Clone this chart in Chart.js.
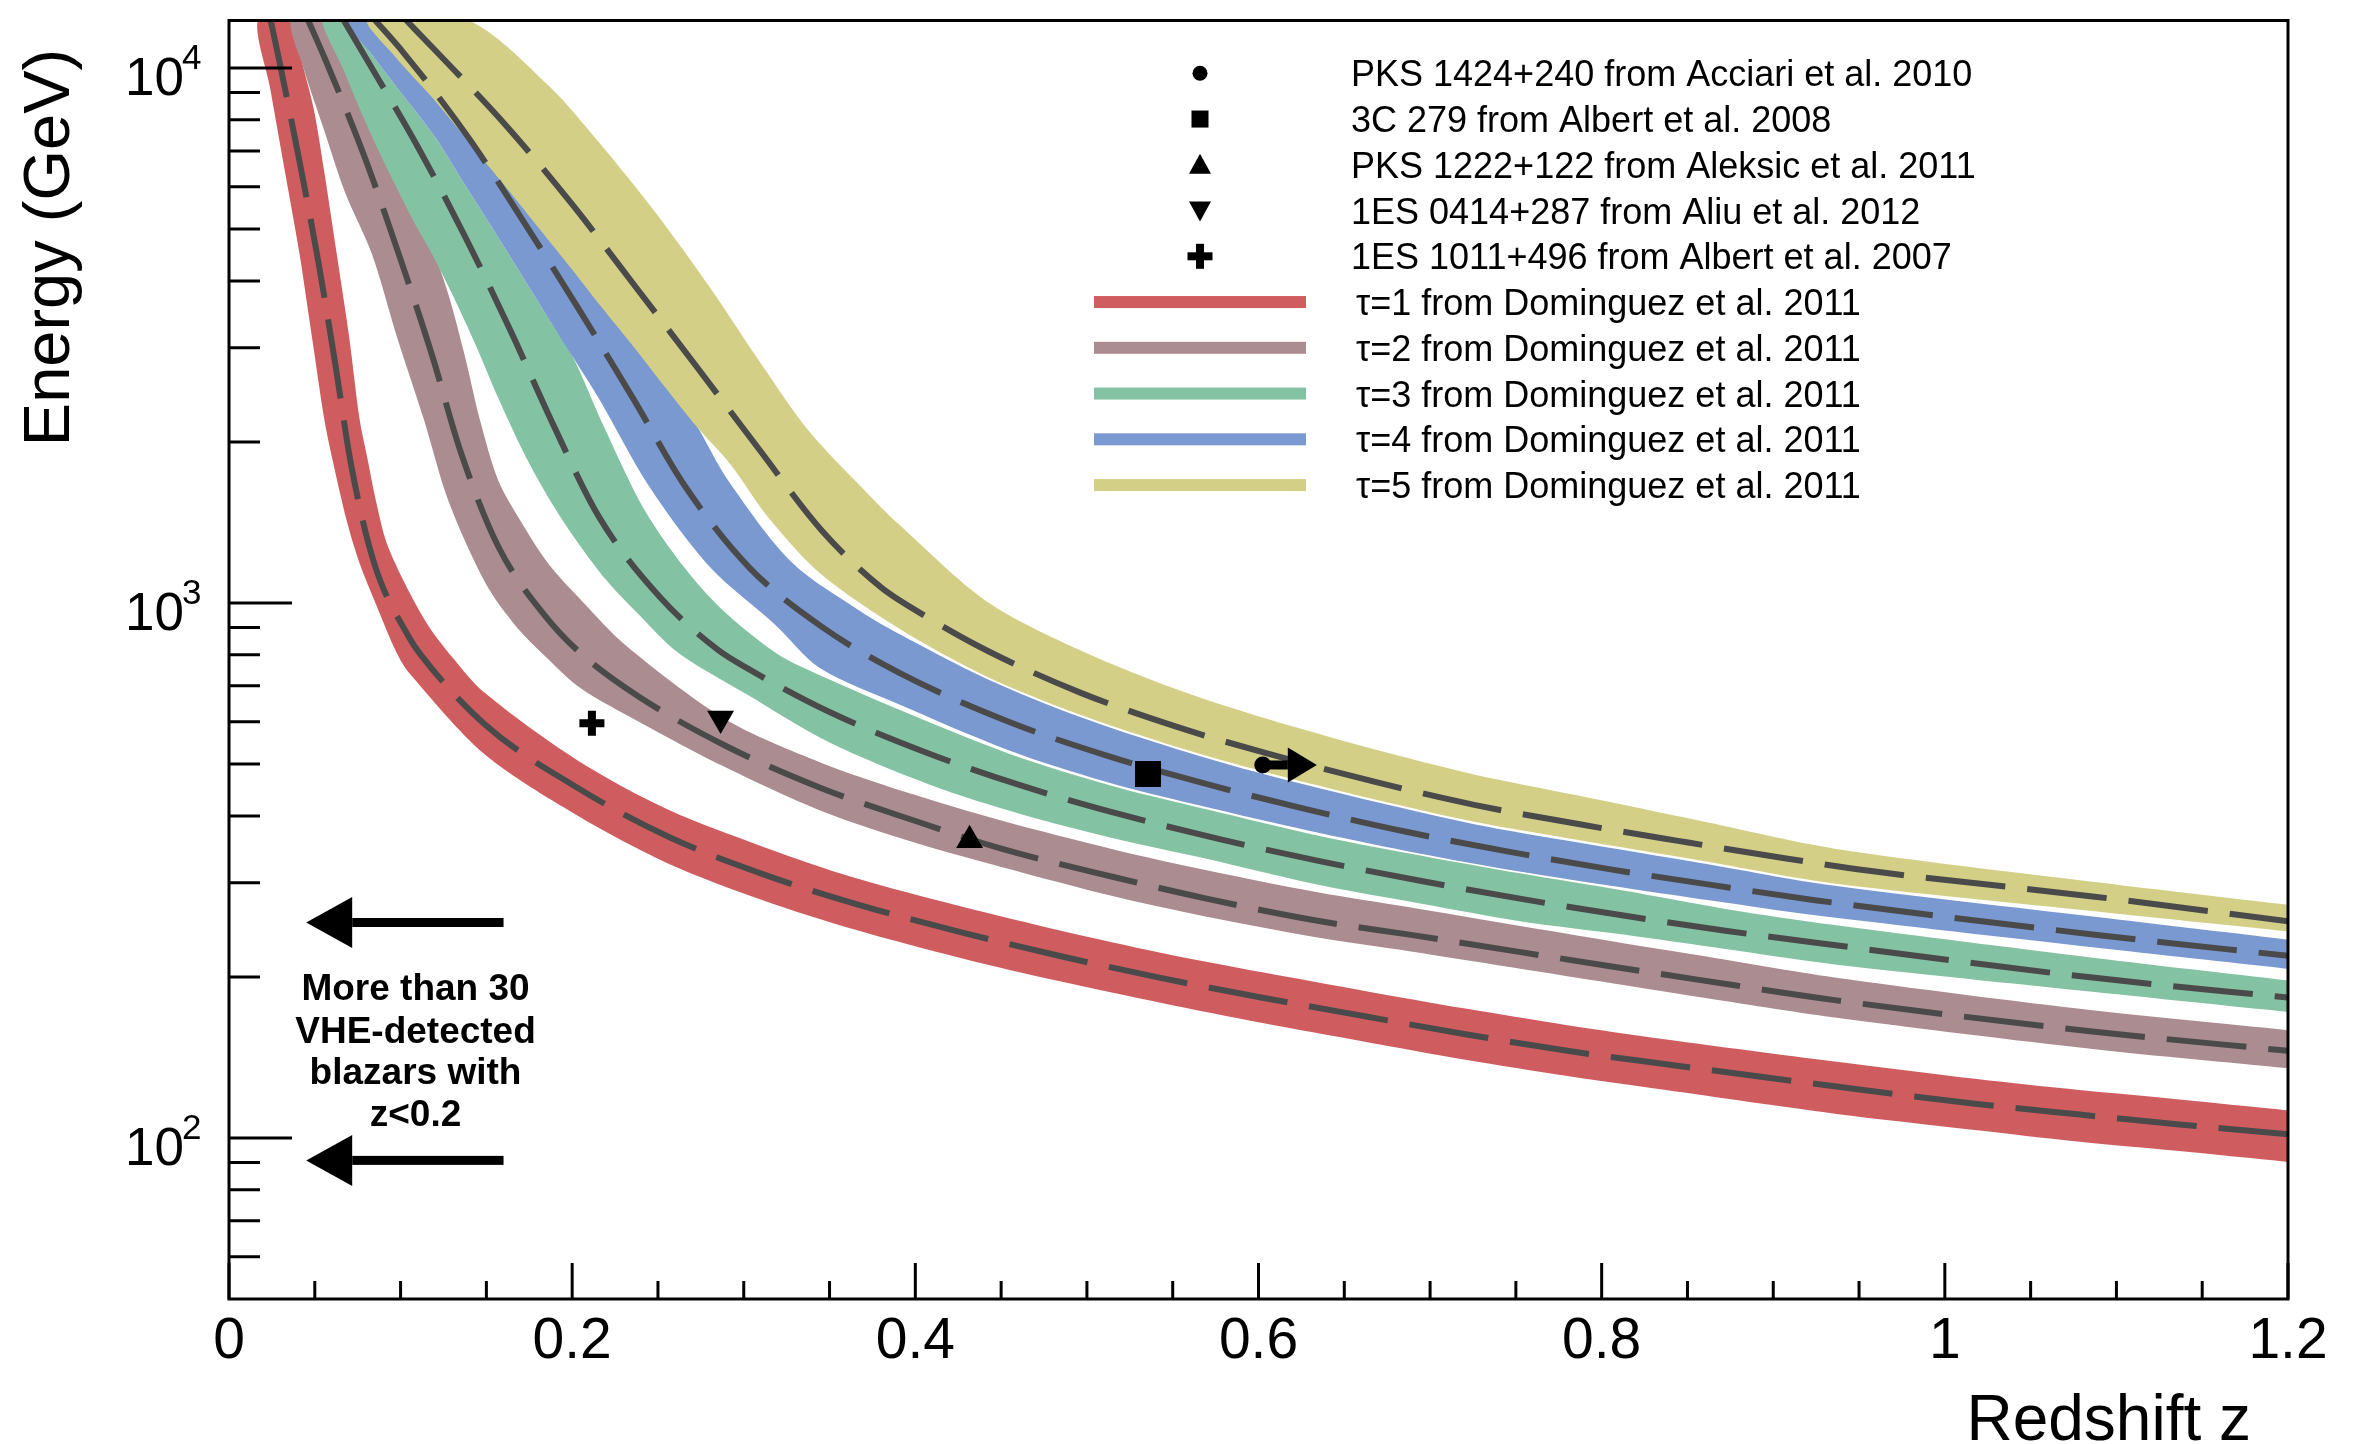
<!DOCTYPE html>
<html><head><meta charset="utf-8">
<script src="https://cdn.jsdelivr.net/npm/chart.js@4.4.0/dist/chart.umd.min.js"></script>
<style>html,body{margin:0;padding:0;background:#fff;}canvas{display:block;}</style>
</head><body>
<canvas id="c" width="2356" height="1444"></canvas>
<script>
// ---------------- DATA (redshift z, energy GeV) ----------------
const redshiftTicks = [0, 0.2, 0.4, 0.6, 0.8, 1.0, 1.2];
const redshiftTickLabels = ['0', '0.2', '0.4', '0.6', '0.8', '1', '1.2'];
const energyTicks = [100, 1000, 10000];
const energyTickExponents = ['2', '3', '4'];

// tau = 1 (center dashed line and band edges)
const tau1Z = [0.0241,0.0290,0.0411,0.0521,0.0620,0.0712,0.0845,0.1050,0.1110,0.1488,0.2023,0.2558,0.3115,0.3651,0.4263,0.4849,0.5429,0.6023,0.6612,0.7206,0.7800,0.8365,0.9358,1.0175,1.0772,1.1367,1.2000];
const tau1E = [12350,10430,6690,4340,2790,1810,1190,862,806,594,453,366,311,274,242.6,218.6,199.2,182.9,169.0,156.3,145.5,137.5,124.9,115.9,110.7,106.0,101.6];
const tau1LoZ = [0.0169,0.0241,0.0326,0.0411,0.0483,0.0555,0.0604,0.0688,0.0761,0.0857,0.0978,0.1050,0.1488,0.2023,0.2558,0.3115,0.3651,0.4263,0.4849,0.5429,0.6023,0.6612,0.7206,0.7800,0.8365,0.9358,1.0175,1.0772,1.1367,1.2000];
const tau1LoE = [12350,9131,6404,4491,3150,2208,1849,1417,1187,994,806,740,522,402,326,278,245,217,196,179,164,151.5,140,130.5,123,111,103.5,98.5,94.5,90.2];
const tau1HiZ = [0.0362,0.0435,0.0495,0.0555,0.0628,0.0700,0.0761,0.0809,0.0857,0.0918,0.1026,0.1159,0.1304,0.1488,0.2023,0.2558,0.3115,0.3651,0.4263,0.4849,0.5429,0.6023,0.6612,0.7206,0.7800,0.8365,0.9358,1.0175,1.0772,1.1367,1.2000];
const tau1HiE = [12350,9980,8356,6404,4491,3150,2208,1849,1549,1297,1086,910,790,680,510,411,350,306,271,244,222,204,188.5,174.5,162.5,153,139,129,123,118,112.6];

// tau = 2
const tau2Z = [0.0458,0.0563,0.0797,0.0995,0.1183,0.1352,0.1570,0.1847,0.2052,0.2380,0.2893,0.3449,0.4014,0.4501,0.5173,0.5690,0.6344,0.6879,0.8068,0.8567,0.9358,1.0874,1.2000];
const tau2E = [12350,10339,6731,4436,2908,1909,1274,942,804,671,541,451,390,347.4,306.5,280.5,254.7,239.9,209,197.5,181,158,145.5];
const tau2LoZ = [0.0362,0.0435,0.0555,0.0676,0.0833,0.0978,0.1135,0.1280,0.1497,0.1666,0.1847,0.2052,0.2380,0.2893,0.3449,0.4014,0.4501,0.5173,0.5690,0.6344,0.6879,0.8068,0.8567,0.9358,1.0874,1.2000];
const tau2LoE = [12350,9980,7645,5861,4491,3150,2208,1548,1086,910,793,692,602,493,409,355,321,282,259.4,237,223.4,194.5,183.5,168,146.5,135];
const tau2HiZ = [0.0555,0.0676,0.0797,0.0942,0.1087,0.1195,0.1280,0.1376,0.1461,0.1570,0.1703,0.1859,0.2053,0.2318,0.2893,0.3449,0.4014,0.4501,0.5173,0.5690,0.6344,0.6879,0.8068,0.8567,0.9358,1.0874,1.2000];
const tau2HiE = [12350,9980,8066,6404,5176,4491,3761,2882,2208,1692,1417,1187,1012,830,606,503,436,392,345,317,288,270,233,219.5,199.5,173,159];

// tau = 3
const tau3Z = [0.0664,0.0792,0.1103,0.1381,0.1642,0.1891,0.2157,0.2511,0.2850,0.3027,0.3497,0.4066,0.4615,0.5191,0.5773,0.6356,0.6950,0.7532,0.8127,0.8721,0.9307,1.0874,1.2000];
const tau3E = [12350,10522,7097,4804,3223,2150,1447,1026,817,753,626,525,456,403,362,329.3,302.2,279.8,260.5,244,230.4,199.2,183];
const tau3LoZ = [0.0543,0.0664,0.0785,0.0930,0.1075,0.1183,0.1304,0.1437,0.1570,0.1715,0.1860,0.2016,0.2197,0.2378,0.2620,0.3027,0.3497,0.4088,0.4617,0.5191,0.5690,0.6356,0.6950,0.7532,0.8127,0.8721,0.9358,1.0874,1.2000];
const tau3LoE = [12350,9980,8066,6404,5176,4491,3761,3040,2413,1917,1577,1320,1105,959,806,672,549,457,403,361,333,297,274,254,240,225.5,211,187.4,172];
const tau3HiZ = [0.0676,0.0821,0.1014,0.1207,0.1364,0.1521,0.1678,0.1835,0.2004,0.2181,0.2446,0.2801,0.3188,0.3497,0.4088,0.4617,0.5191,0.5690,0.6356,0.6950,0.7532,0.8127,0.8721,0.9358,1.0874,1.2000];
const tau3HiE = [12350,10714,8892,7381,6127,5103,4236,3516,2882,2150,1448,1026,806,720,597,513,451,412,367,337,312,290,268,250,217,197];

// tau = 4
const tau4Z = [0.0845,0.1014,0.1400,0.1727,0.2045,0.2355,0.2656,0.3031,0.3441,0.3907,0.4555,0.5115,0.5689,0.6282,0.6861,0.7441,0.8044,0.8638,0.9233,1.0874,1.2000];
const tau4E = [12350,10713,7379,5103,3515,2413,1656,1166,909,740,598,518.5,459.5,411.5,373.5,343.7,318.1,297.2,278.6,239.9,219];
const tau4LoZ = [0.0676,0.0821,0.1014,0.1207,0.1364,0.1521,0.1678,0.1835,0.2004,0.2155,0.2446,0.2804,0.3186,0.3441,0.3907,0.4555,0.5115,0.5689,0.6282,0.6861,0.7441,0.8044,0.8638,0.9233,1.0874,1.2000];
const tau4LoE = [12350,10714,8892,7381,6127,5103,4236,3516,2882,2413,1656,1166,909,757,646,529,463,416,376,344,318,296.5,277.8,261,226.9,207];
const tau4HiZ = [0.0959,0.1106,0.1313,0.1521,0.1728,0.1911,0.2094,0.2253,0.2427,0.2576,0.2738,0.2906,0.3281,0.3691,0.3907,0.4414,0.4961,0.5525,0.6029,0.6680,0.7257,0.7856,0.8567,0.9358,1.0874,1.2000];
const tau4HiE = [12350,10525,8814,7252,5966,4995,4183,3566,2987,2545,2112,1700,1190,960,875,722,612,533,479,425,386,357,327,296,259,234.8];

// tau = 5
const tau5Z = [0.1026,0.1200,0.1618,0.1997,0.2367,0.2729,0.3086,0.3453,0.3804,0.3998,0.4414,0.4961,0.5525,0.6029,0.6680,0.7257,0.7856,0.8445,0.9039,0.9560,1.0874,1.2000];
const tau5E = [12350,10808,7785,5576,3910,2756,1944,1368,1067,971,816,680,586.5,525.6,463,419.5,386.6,359.2,334.4,315.8,282.5,254];
const tau5LoZ = [0.0809,0.0966,0.1183,0.1401,0.1618,0.1811,0.2004,0.2173,0.2367,0.2536,0.2728,0.2922,0.3139,0.3453,0.3907,0.4414,0.4961,0.5525,0.6029,0.6680,0.7257,0.7856,0.8567,0.9358,1.0874,1.2000];
const tau5LoE = [12350,10525,8814,7252,5966,4995,4183,3566,2987,2545,2132,1817,1450,1130,895,729,618,538,484,429,390,361,330.6,299.1,265.3,243.2];
const tau5HiZ = [0.1376,0.1859,0.2198,0.2487,0.2801,0.3091,0.3381,0.3743,0.3907,0.4414,0.4961,0.5525,0.6029,0.6680,0.7257,0.7856,0.8567,0.9358,1.0874,1.2000];
const tau5HiE = [12350,9296,6998,5363,3896,2831,2094,1577,1400,1008,816,689,610,532,478,437,392,347.4,301,272.8];

// measured sources
const sourceLabels = ['PKS 1424+240 from Acciari et al. 2010','3C 279 from Albert et al. 2008','PKS 1222+122 from Aleksic et al. 2011','1ES 0414+287 from Aliu et al. 2012','1ES 1011+496 from Albert et al. 2007'];
const sourceZ = [0.6025, 0.5356, 0.4316, 0.2865, 0.2115];
const sourceE = [498, 479, 360, 608, 596];
const limitArrowTipZ = [0.634];   // PKS 1424+240 redshift lower limit

const tauLabels = ['τ=1 from Dominguez et al. 2011','τ=2 from Dominguez et al. 2011','τ=3 from Dominguez et al. 2011','τ=4 from Dominguez et al. 2011','τ=5 from Dominguez et al. 2011'];
const bandColors = ['#CF5D60', '#AB8C91', '#84C2A4', '#7A99D1', '#D4CF87'];

// annotation
const noteLines = ['More than 30', 'VHE-detected', 'blazars with', 'z<0.2'];
const noteArrowE = [252.8, 90.8];
const noteArrowZ = [0.045, 0.16];   // tip, tail
const noteTextZ = 0.1087;
const noteTextE = [181, 150.6, 125.9, 105.1];

// ---------------- CHART ----------------
const FONT = '"Liberation Sans", Arial, Helvetica, sans-serif';
function P(zs, es) { return zs.map((z, i) => ({x: z, y: es[i]})); }
function bandShape(loZ, loE, hiZ, hiE) { return P(hiZ, hiE).reverse().concat(P(loZ, loE)); }

const taus = [
  [tau1Z, tau1E, tau1LoZ, tau1LoE, tau1HiZ, tau1HiE],
  [tau2Z, tau2E, tau2LoZ, tau2LoE, tau2HiZ, tau2HiE],
  [tau3Z, tau3E, tau3LoZ, tau3LoE, tau3HiZ, tau3HiE],
  [tau4Z, tau4E, tau4LoZ, tau4LoE, tau4HiZ, tau4HiE],
  [tau5Z, tau5E, tau5LoZ, tau5LoE, tau5HiZ, tau5HiE]
];

const datasets = [];
taus.forEach((t, i) => {
  datasets.push({
    type: 'line', label: tauLabels[i] + ' band',
    data: bandShape(t[2], t[3], t[4], t[5]),
    backgroundColor: bandColors[i], borderColor: bandColors[i], borderWidth: 0,
    pointRadius: 0, fill: 'shape', tension: 0.3, order: 100 - i
  });
});
taus.forEach((t, i) => {
  datasets.push({
    type: 'line', label: tauLabels[i],
    data: P(t[0], t[1]),
    borderColor: '#4a4a4a', borderWidth: 6, borderDash: [80, 22],
    pointRadius: 0, fill: false, cubicInterpolationMode: 'monotone', order: 50, clip: 0
  });
});
const mStyle = ['circle', 'rect', 'triangle', 'triangle', 'cross'];
const mRadius = [8.5, 18.4, 15.5, 15.5, 12.5];
const mRot = [0, 0, 0, 180, 0];
const mBorder = [0, 0, 0, 0, 8];
sourceZ.forEach((z, i) => {
  datasets.push({
    type: 'line', label: sourceLabels[i], showLine: false,
    data: [{x: z, y: sourceE[i]}],
    pointStyle: mStyle[i], pointRadius: mRadius[i], pointRotation: mRot[i],
    pointBackgroundColor: '#000', pointBorderColor: '#000', pointBorderWidth: mBorder[i],
    order: 5
  });
});

function hArrow(ctx, xTail, xTip, y, shaftW, headH, headL) {
  const dir = Math.sign(xTip - xTail);
  const base = xTip - dir * headL;
  ctx.fillStyle = '#000';
  ctx.fillRect(Math.min(xTail, base), y - shaftW / 2, Math.abs(base - xTail), shaftW);
  ctx.beginPath();
  ctx.moveTo(xTip, y);
  ctx.lineTo(base, y - headH / 2);
  ctx.lineTo(base, y + headH / 2);
  ctx.closePath();
  ctx.fill();
}

const decor = {
  id: 'decor',
  afterDatasetsDraw(chart) {
    const ctx = chart.ctx, xs = chart.scales.x, ys = chart.scales.y;
    ctx.save();
    hArrow(ctx, xs.getPixelForValue(sourceZ[0]), xs.getPixelForValue(limitArrowTipZ[0]),
           ys.getPixelForValue(sourceE[0]), 9, 35, 29);
    ctx.restore();
  },
  afterDraw(chart) {
    const ctx = chart.ctx, xs = chart.scales.x, ys = chart.scales.y, a = chart.chartArea;
    ctx.save();
    ctx.strokeStyle = '#000'; ctx.lineWidth = 3;
    ctx.strokeRect(a.left, a.top, a.right - a.left, a.bottom - a.top);
    ctx.beginPath();
    for (let k = 0; k <= 24; k++) {
      const x = xs.getPixelForValue(k * 0.05);
      const len = (k % 4 === 0) ? 36 : 18;
      ctx.moveTo(x, a.bottom); ctx.lineTo(x, a.bottom - len);
    }
    for (let d = 1; d <= 4; d++) {
      for (let m = 1; m <= 9; m++) {
        const v = m * Math.pow(10, d);
        if (v <= 50 || v > ys.max) continue;
        const y = ys.getPixelForValue(v);
        ctx.moveTo(a.left, y); ctx.lineTo(a.left + (m === 1 ? 63 : 31), y);
      }
    }
    ctx.stroke();
    ctx.fillStyle = '#000';
    ctx.font = '57px ' + FONT; ctx.textAlign = 'center'; ctx.textBaseline = 'alphabetic';
    redshiftTicks.forEach((v, i) => ctx.fillText(redshiftTickLabels[i], xs.getPixelForValue(v), a.bottom + 59));
    energyTicks.forEach((v, i) => {
      const y = ys.getPixelForValue(v);
      ctx.font = '53px ' + FONT; ctx.textAlign = 'right';
      ctx.fillText('10', a.left - 45, y + 27);
      ctx.font = '35px ' + FONT; ctx.textAlign = 'left';
      ctx.fillText(energyTickExponents[i], a.left - 47, y + 1);
    });
    ctx.font = '64px ' + FONT; ctx.textAlign = 'right';
    ctx.fillText('Redshift z', 2251, 1440);
    ctx.save();
    ctx.translate(69, 247.5); ctx.rotate(-Math.PI / 2);
    ctx.font = '65px ' + FONT; ctx.textAlign = 'center';
    ctx.fillText('Energy (GeV)', 0, 0);
    ctx.restore();
    noteArrowE.forEach(e => hArrow(ctx, xs.getPixelForValue(noteArrowZ[1]), xs.getPixelForValue(noteArrowZ[0]), ys.getPixelForValue(e), 9, 51, 46));
    ctx.font = 'bold 37px ' + FONT; ctx.textAlign = 'center'; ctx.fillStyle = '#000';
    noteLines.forEach((t, i) => ctx.fillText(t, xs.getPixelForValue(noteTextZ), ys.getPixelForValue(noteTextE[i])));
    const lx = 1200, y0 = 73.3, dy = 45.75;
    ctx.font = '36px ' + FONT; ctx.textAlign = 'left';
    for (let i = 0; i < 10; i++) {
      const y = y0 + i * dy;
      ctx.fillStyle = '#000';
      if (i < 5) {
        if (i === 0) { ctx.beginPath(); ctx.arc(lx, y, 7.5, 0, Math.PI * 2); ctx.fill(); }
        if (i === 1) { ctx.fillRect(lx - 8.5, y - 8.5, 17, 17); }
        if (i === 2) { ctx.beginPath(); ctx.moveTo(lx, y - 11); ctx.lineTo(lx - 11, y + 9); ctx.lineTo(lx + 11, y + 9); ctx.closePath(); ctx.fill(); }
        if (i === 3) { ctx.beginPath(); ctx.moveTo(lx, y + 11); ctx.lineTo(lx - 11, y - 9); ctx.lineTo(lx + 11, y - 9); ctx.closePath(); ctx.fill(); }
        if (i === 4) { ctx.fillRect(lx - 12.5, y - 4, 25, 8); ctx.fillRect(lx - 4, y - 12.5, 8, 25); }
        ctx.fillStyle = '#000';
        ctx.fillText(sourceLabels[i], 1351, y + 13);
      } else {
        ctx.fillStyle = bandColors[i - 5];
        ctx.fillRect(1094, y - 6, 212, 12);
        ctx.fillStyle = '#000';
        ctx.fillText(tauLabels[i - 5], 1356, y + 13);
      }
    }
    ctx.restore();
  }
};

new Chart(document.getElementById('c'), {
  type: 'line',
  data: {datasets},
  options: {
    responsive: false, animation: false, devicePixelRatio: 1, events: [],
    layout: {padding: {left: 229, right: 68, top: 13, bottom: 145}},
    scales: {
      x: {type: 'linear', min: 0, max: 1.2, display: false},
      y: {type: 'logarithmic', min: 50, max: 12270, display: false}
    },
    plugins: {legend: {display: false}, tooltip: {enabled: false}}
  },
  plugins: [decor]
});
</script>
</body></html>
